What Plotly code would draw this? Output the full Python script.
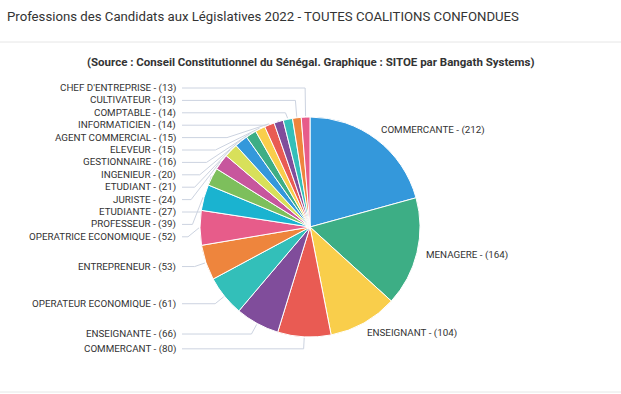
import math
import plotly.graph_objects as go

# ---- data ----
professions = ["COMMERCANTE", "MENAGERE", "ENSEIGNANT", "COMMERCANT", "ENSEIGNANTE",
               "OPERATEUR ECONOMIQUE", "ENTREPRENEUR", "OPERATRICE ECONOMIQUE", "PROFESSEUR",
               "ETUDIANTE", "JURISTE", "ETUDIANT", "INGENIEUR", "GESTIONNAIRE", "ELEVEUR",
               "AGENT COMMERCIAL", "INFORMATICIEN", "COMPTABLE", "CULTIVATEUR", "CHEF D'ENTREPRISE"]
counts = [212, 164, 104, 80, 66, 61, 53, 52, 39, 27, 24, 21, 20, 16, 15, 15, 14, 14, 13, 13]

title_text = "Professions des Candidats aux Législatives 2022 - TOUTES COALITIONS CONFONDUES"
subtitle_text = "(Source : Conseil Constitutionnel du Sénégal. Graphique : SITOE par Bangath Systems)"

palette = ["#3498DB", "#3DAE85", "#F9CE4B", "#E95B53", "#804D9B", "#33BFB9",
           "#EE853D", "#E75C8A", "#1AB3D0", "#7DBF5C", "#C7569D", "#D8E05A"]

# ---- layout constants (pixels) ----
W, H = 621, 394
CX, CY, R = 310, 227, 110
BREAK = 12
COL_X = 178
GAP = 12.4
Y_MIN, Y_MAX = 88, 385
FONT = "Roboto, Arial, sans-serif"
LINE_COLOR = "#CCD3E0"
LABEL_SIZE = 9.8

total = sum(counts)
slices = []
cum = 0
for name, v in zip(professions, counts):
    a = (cum + v / 2) / total * 2 * math.pi
    cum += v
    s, c = math.sin(a), math.cos(a)
    slices.append(dict(
        text=f"{name} - ({v})",
        side="right" if s >= 0 else "left",
        bx=CX + (R + BREAK) * s, by=CY - (R + BREAK) * c,
        ex=CX + (R + 1) * s, ey=CY - (R + 1) * c,
    ))


def distribute(items):
    items = sorted(items, key=lambda d: d["by"])
    clusters = []
    for it in items:
        clusters.append({"items": [it]})
        while True:
            last = clusters[-1]
            its = last["items"]
            top = sum(d["by"] - k * GAP for k, d in enumerate(its)) / len(its)
            top = max(Y_MIN, min(top, Y_MAX - (len(its) - 1) * GAP))
            last["top"] = top
            if len(clusters) > 1:
                prev = clusters[-2]
                if prev["top"] + len(prev["items"]) * GAP > top:
                    prev["items"] += its
                    clusters.pop()
                    continue
            break
    for cl in clusters:
        for k, d in enumerate(cl["items"]):
            d["y"] = cl["top"] + k * GAP


distribute([d for d in slices if d["side"] == "left"])
distribute([d for d in slices if d["side"] == "right"])

line_x, line_y = [], []
annotations = []
for d in slices:
    y = d["y"]
    if d["side"] == "left":
        dy = y - CY
        kx = d["bx"]
        if abs(dy) < R:
            edge_x = CX - math.sqrt(R ** 2 - dy ** 2)
            if d["bx"] - edge_x > 8:
                kx = CX - math.sqrt((R + BREAK) ** 2 - dy ** 2)
        line_x += [COL_X + 4, kx, d["ex"], None]
        line_y += [y, y, d["ey"], None]
        annotations.append(dict(x=COL_X, y=y, text=d["text"], xanchor="right", yanchor="middle",
                                showarrow=False, xref="x", yref="y",
                                font=dict(family=FONT, size=LABEL_SIZE, color="#333333")))
    else:
        annotations.append(dict(x=d["bx"] - 5, y=y, text=d["text"], xanchor="left", yanchor="middle",
                                showarrow=False, xref="x", yref="y",
                                font=dict(family=FONT, size=LABEL_SIZE, color="#333333")))

annotations.append(dict(x=5, y=16, text=title_text, xanchor="left", yanchor="middle", showarrow=False,
                        xref="x", yref="y", font=dict(family=FONT, size=13.2, color="#333333")))
annotations.append(dict(x=CX, y=62, text="<b>" + subtitle_text + "</b>", xanchor="center", yanchor="middle",
                        showarrow=False, xref="x", yref="y", font=dict(family=FONT, size=11.5, color="#333333")))

fig = go.Figure()
fig.add_trace(go.Scatter(x=line_x, y=line_y, mode="lines", line=dict(color=LINE_COLOR, width=1),
                         hoverinfo="skip", showlegend=False))
fig.add_trace(go.Pie(
    labels=professions, values=counts, sort=False, direction="clockwise", rotation=0,
    textinfo="none", hoverinfo="label+value", showlegend=False,
    marker=dict(colors=[palette[i % len(palette)] for i in range(len(counts))],
                line=dict(color="white", width=1)),
    domain=dict(x=[(CX - R) / W, (CX + R) / W], y=[(H - CY - R) / H, (H - CY + R) / H]),
))

fig.update_layout(
    width=W, height=H, margin=dict(l=0, r=0, t=0, b=0),
    paper_bgcolor="white", plot_bgcolor="white",
    xaxis=dict(range=[0, W], visible=False, domain=[0, 1], fixedrange=True),
    yaxis=dict(range=[H, 0], visible=False, domain=[0, 1], fixedrange=True),
    annotations=annotations,
    shapes=[
        dict(type="line", xref="x", yref="y", x0=0, x1=W, y0=42, y1=42, line=dict(color="#E6E6E6", width=1)),
        dict(type="line", xref="x", yref="y", x0=0, x1=W, y0=392, y1=392, line=dict(color="#E6E6E6", width=1)),
    ],
)

fig.write_html("out.html", config={"displayModeBar": False},
               post_script="document.body.style.margin='0';document.body.style.overflow='hidden';")
